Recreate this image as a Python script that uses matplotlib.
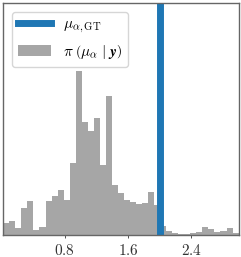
import numpy as np
import matplotlib
matplotlib.use("Agg")
import matplotlib.pyplot as plt
from matplotlib.lines import Line2D
from matplotlib.patches import Patch

plt.rcParams['mathtext.fontset'] = 'cm'
plt.rcParams['font.family'] = 'serif'
plt.rcParams['font.serif'] = ['cmr10', 'DejaVu Serif']
plt.rcParams['axes.unicode_minus'] = False

# Data
x_min, x_max = 0.02, 3.0
n_bins = 39
heights = [12.3, 13.7, 7.3, 27.3, 33.7, 5.0, 8.3, 34.0, 38.7, 45.0,
           34.7, 71.7, 163.7, 112.7, 104.0, 116.7, 69.7, 139.3, 50.0, 42.3,
           35.0, 33.3, 31.0, 32.3, 42.7, 30.0, 9.3, 4.3, 1.7, 1.0,
           0.7, 1.7, 2.7, 8.3, 6.0, 3.0, 4.3, 7.0, 1.7]
mu_gt = 2.0
xticks = [0.8, 1.6, 2.4]
xtick_labels = ['$0.8$', '$1.6$', '$2.4$']
y_top = 231.7

edges = np.linspace(x_min, x_max, n_bins + 1)
centers = 0.5 * (edges[:-1] + edges[1:])

fig = plt.figure(figsize=(2.41, 2.57), dpi=100)
ax = fig.add_axes([0.0137, 0.0856, 0.9763, 0.9016])

ax.hist(centers, bins=edges, weights=heights, color='gray', alpha=0.7)
ax.axvline(mu_gt, color='#1f77b4', lw=5)

ax.set_xlim(x_min, x_max)
ax.set_ylim(0, y_top)
ax.set_yticks([])
ax.set_xticks(xticks)
ax.set_xticklabels(xtick_labels, fontsize=11)
ax.tick_params(axis='x', length=2.5, width=0.6, pad=3, colors='#333333')
for s in ax.spines.values():
    s.set_color('#666666')
    s.set_linewidth(1.0)

handles = [Line2D([], [], color='#1f77b4', lw=5),
           Patch(facecolor='gray', alpha=0.7)]
labels = [r'$\mu_{\alpha,\mathrm{GT}}$',
          r'$\pi\;\left(\mu_\alpha \;|\; \boldsymbol{y}\right)$']
ax.legend(handles, labels, loc='upper left', fontsize=11,
          handlelength=2.15, borderaxespad=0.55)

fig.savefig('out.png', dpi=100)
